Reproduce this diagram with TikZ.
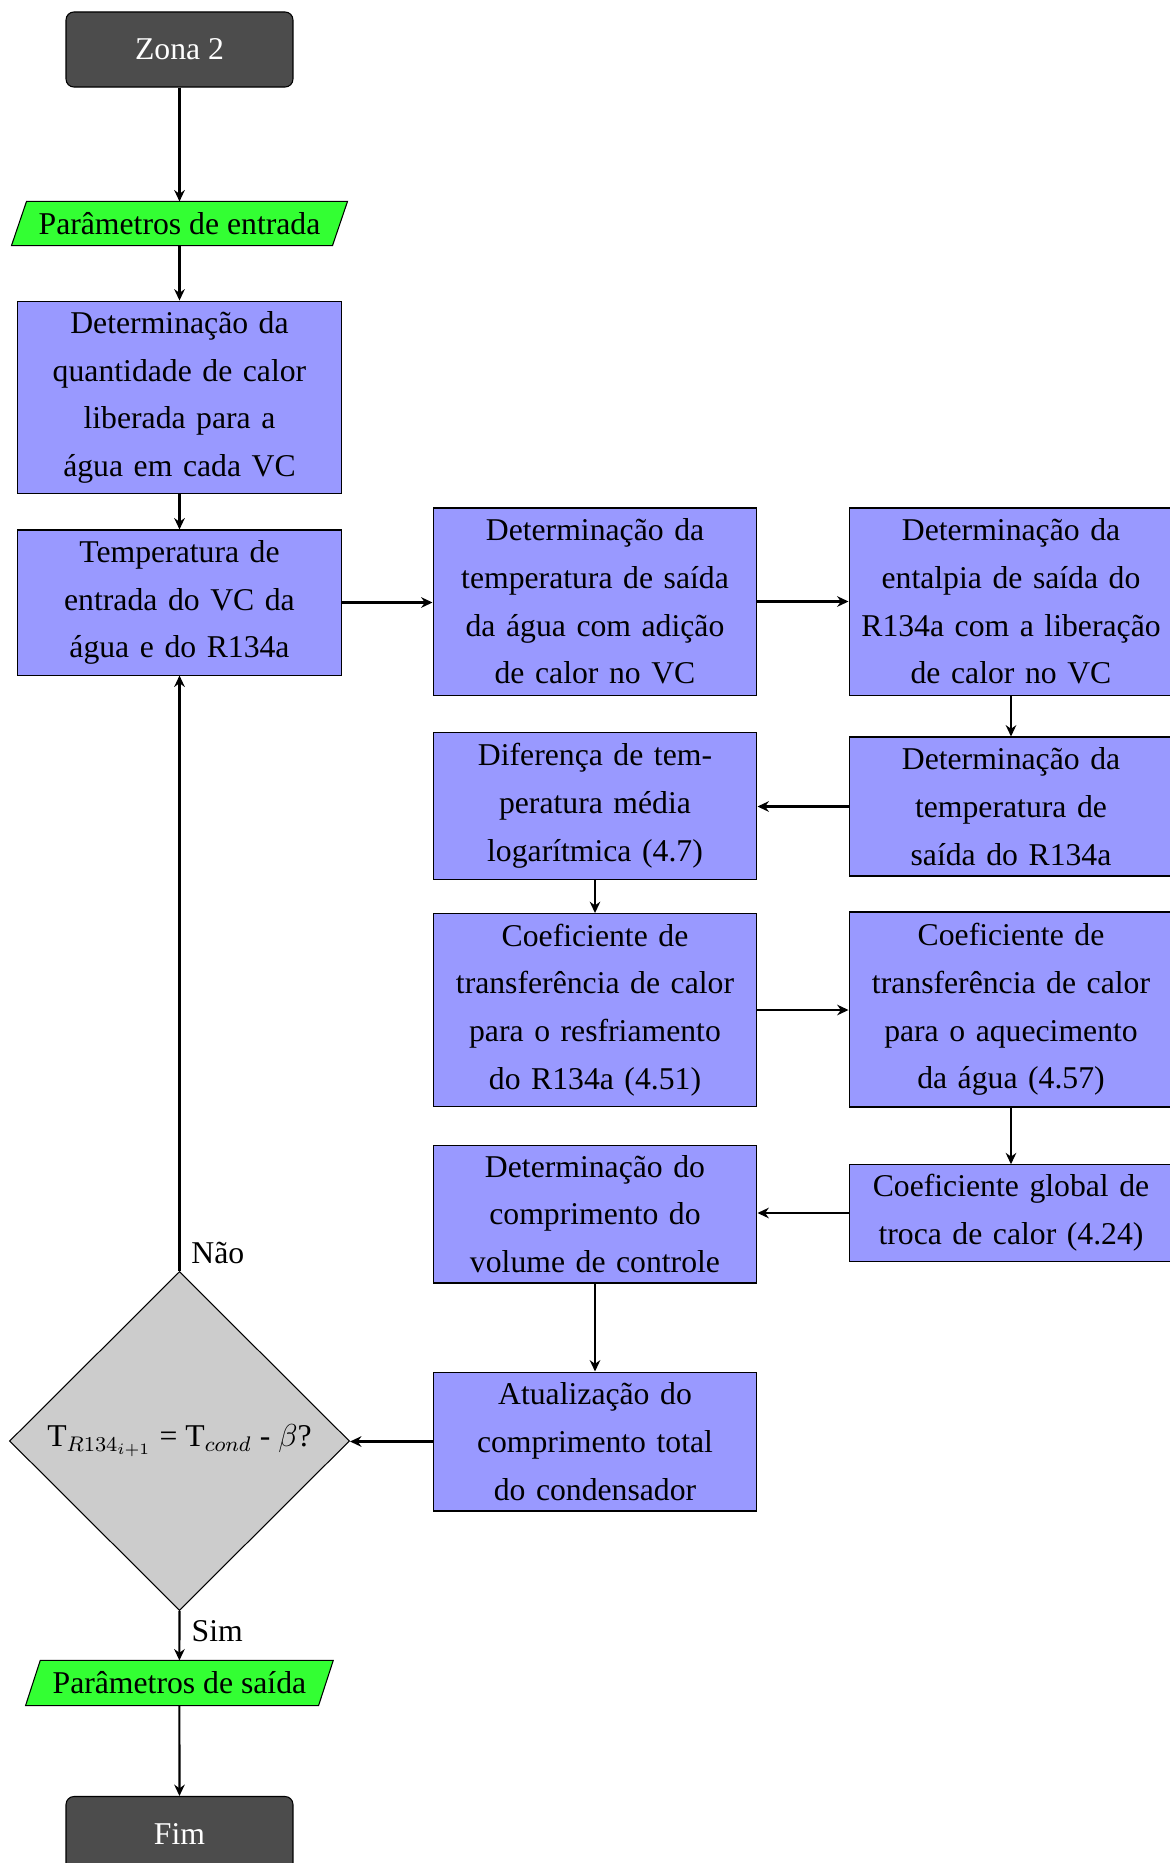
\documentclass[tikz,border=0pt]{standalone}
\usepackage{fontspec}
\setmainfont{Liberation Serif}
\usetikzlibrary{shapes.geometric,backgrounds,arrows.meta}
\begin{document}
\begin{tikzpicture}[x=0.3785pt,y=-0.3785pt,
  every node/.style={font=\fontsize{12}{18.1}\selectfont},
  term/.style={rectangle, rounded corners=3pt, draw=black, fill=black!70, text=white,
    minimum width=85.9pt, minimum height=28.4pt, inner sep=2pt},
  proc/.style={rectangle, draw=black, fill=blue!40, align=center, text width=118pt,
    minimum width=122.6pt, inner sep=2pt},
  iotext/.style={rectangle, minimum height=16.3pt, inner sep=0pt},
  iofill/.style={draw=black, fill=green!80},
  dec/.style={diamond, draw=black, fill=black!20, minimum width=128.7pt,
    minimum height=128.3pt, inner sep=0pt, aspect=1},
  lbl/.style={anchor=base west, inner sep=0pt},
  arr/.style={-{Stealth[length=4.3pt, width=4pt, inset=1.4pt]}, line width=0.8pt}]
\useasboundingbox (0,0) rectangle (1170,1863);

\node[term] (z2) at (179.5,49.5) {Zona 2};
\node[iotext, minimum width=121.1pt] (pin) at (179.5,223.5) {Parâmetros de entrada};
\node[proc, minimum height=73pt] (b1) at (179.5,397.5)
  {Determinação da\\ quantidade de calor\\ liberada para a\\ água em cada VC};
\node[proc, minimum height=54.9pt] (b2) at (179.5,602.5)
  {Temperatura de\\ entrada do VC da\\ água e do R134a};
\node[proc, minimum height=70.8pt] (b3) at (595,601.5)
  {Determinação da\\ temperatura de saída\\ da água com adição\\ de calor no VC};
\node[proc, minimum height=70.8pt] (b4) at (1011,601.5)
  {Determinação da\\ entalpia de saída do\\ R134a com a liberação\\ de calor no VC};
\node[proc, minimum height=52.6pt] (b5) at (1011,806.5)
  {Determinação da\\ temperatura de\\ saída do R134a};
\node[proc, minimum height=55.3pt] (b6) at (595,806)
  {Diferença de tem-\\ peratura média\\ logarítmica (4.7)};
\node[proc, minimum height=73pt] (b7) at (595,1010)
  {Coeficiente de\\ transferência de calor\\ para o resfriamento\\ do R134a (4.51)};
\node[proc, minimum height=73.8pt] (b8) at (1011,1009.5)
  {Coeficiente de\\ transferência de calor\\ para o aquecimento\\ da água (4.57)};
\node[proc, minimum height=52.2pt] (b9) at (595,1214)
  {Determinação do\\ comprimento do\\ volume de controle};
\node[proc, minimum height=36.5pt] (b10) at (1011,1213)
  {Coeficiente global de\\ troca de calor (4.24)};
\node[proc, minimum height=52.6pt] (b11) at (595,1441.5)
  {Atualização do\\ comprimento total\\ do condensador};
\node[dec] (d) at (179.5,1441) {T$_{R134_{i+1}}$ = T$_{cond}$ - $\beta$?};
\node[iotext, minimum width=110.5pt, minimum height=16.7pt] (pout) at (179.4,1683)
  {Parâmetros de saída};
\node[term] (fim) at (179.5,1834) {Fim};

\begin{scope}[on background layer]
\fill[white] (0,0) rectangle (1170,1863);
\draw[iofill] ([xshift=2.84pt]pin.north west) -- ([xshift=2.84pt]pin.north east)
  -- ([xshift=-2.84pt]pin.south east) -- ([xshift=-2.84pt]pin.south west) -- cycle;
\draw[iofill] ([xshift=2.78pt]pout.north west) -- ([xshift=2.78pt]pout.north east)
  -- ([xshift=-2.78pt]pout.south east) -- ([xshift=-2.78pt]pout.south west) -- cycle;
\end{scope}

\draw[arr] (z2) -- (pin);
\draw[arr] (pin) -- (b1);
\draw[arr] (b1) -- (b2);
\draw[arr] (b2.east) -- (b2.east -| b3.west);
\draw[arr] (b3.east) -- (b3.east -| b4.west);
\draw[arr] (b4) -- (b5);
\draw[arr] (b5.west) -- (b5.west -| b6.east);
\draw[arr] (b6) -- (b7);
\draw[arr] (b7.east) -- (b7.east -| b8.west);
\draw[arr] (b8) -- (b10);
\draw[arr] (b10.west) -- (b10.west -| b9.east);
\draw[arr] (b9) -- (b11);
\draw[arr] (b11.west) -- (b11.west -| d.east);
\draw[arr] (d.north) -- (b2.south)
  node[lbl, pos=0, xshift=4.1pt, yshift=3pt] (nao) {Não};
\draw[arr] (d.south) -- (pout.north);
\node[lbl] (sim) at ([xshift=4.4pt,yshift=-11.7pt]d.south) {Sim};
\draw[arr] (pout) -- (fim);
\end{tikzpicture}
\end{document}
